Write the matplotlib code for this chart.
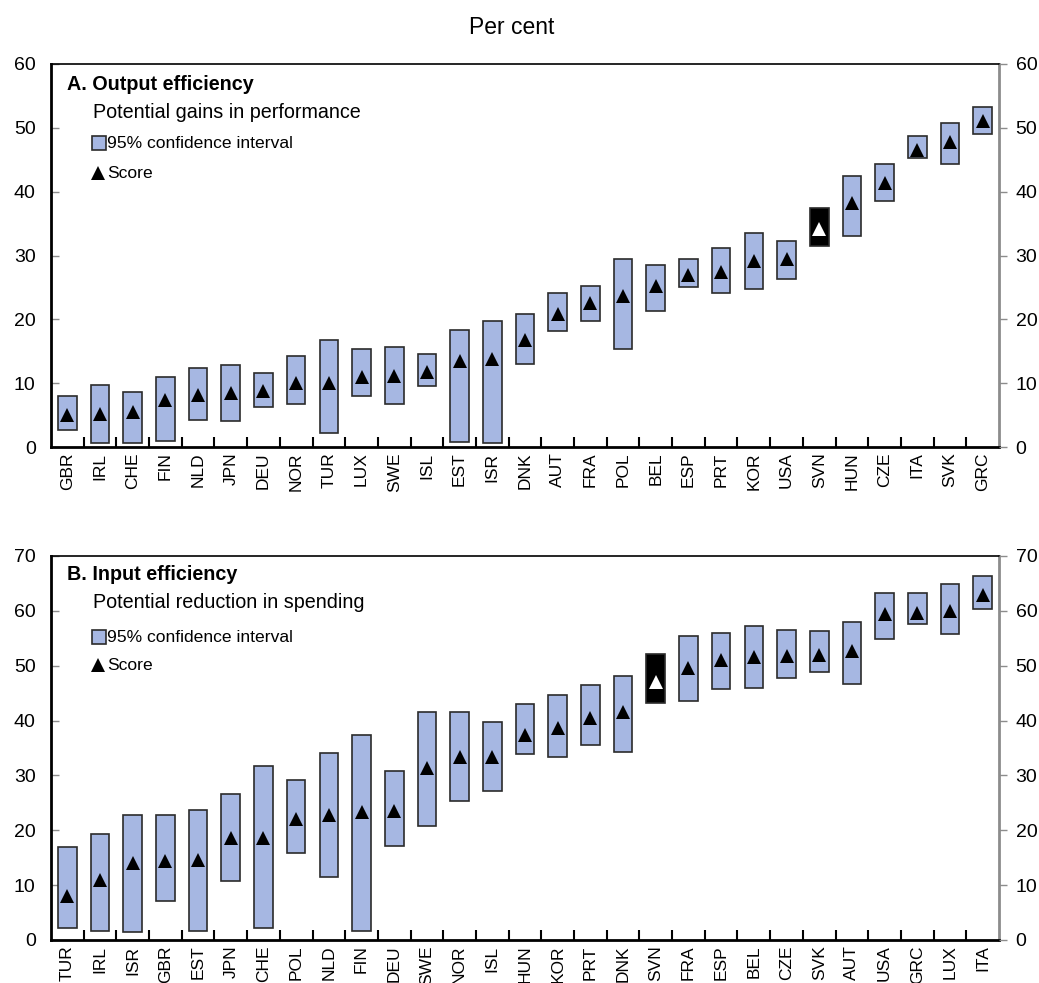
import matplotlib
matplotlib.use("Agg")
import matplotlib.pyplot as plt
import numpy as np

# ---- Panel A: output efficiency ----
cats_a = ["GBR", "IRL", "CHE", "FIN", "NLD", "JPN", "DEU", "NOR", "TUR", "LUX",
          "SWE", "ISL", "EST", "ISR", "DNK", "AUT", "FRA", "POL", "BEL", "ESP",
          "PRT", "KOR", "USA", "SVN", "HUN", "CZE", "ITA", "SVK", "GRC"]
score_a = [5.0, 5.1, 5.5, 7.4, 8.2, 8.4, 8.8, 10.0, 10.1, 11.0,
           11.2, 11.8, 13.4, 13.8, 16.8, 20.9, 22.5, 23.7, 25.2, 27.0,
           27.4, 29.1, 29.4, 34.2, 38.3, 41.4, 46.6, 47.8, 51.1]
low_a = [2.6, 0.7, 0.7, 0.9, 4.2, 4.0, 6.2, 6.7, 2.2, 8.0,
         6.7, 9.6, 0.8, 0.7, 13.0, 18.2, 19.8, 15.3, 21.3, 25.0,
         24.2, 24.7, 26.3, 31.5, 33.0, 38.6, 45.3, 44.4, 49.0]
high_a = [8.0, 9.7, 8.6, 10.9, 12.4, 12.9, 11.6, 14.3, 16.8, 15.4,
          15.7, 14.6, 18.3, 19.8, 20.9, 24.1, 25.2, 29.4, 28.5, 29.5,
          31.2, 33.5, 32.2, 37.5, 42.5, 44.4, 48.7, 50.8, 53.3]

# ---- Panel B: input efficiency ----
cats_b = ["TUR", "IRL", "ISR", "GBR", "EST", "JPN", "CHE", "POL", "NLD", "FIN",
          "DEU", "SWE", "NOR", "ISL", "HUN", "KOR", "PRT", "DNK", "SVN", "FRA",
          "ESP", "BEL", "CZE", "SVK", "AUT", "USA", "GRC", "LUX", "ITA"]
score_b = [8.1, 10.9, 14.1, 14.4, 14.5, 18.6, 18.6, 22.0, 22.8, 23.3,
           23.5, 31.3, 33.3, 33.4, 37.3, 38.7, 40.5, 41.5, 47.1, 49.6,
           51.1, 51.5, 51.8, 51.9, 52.7, 59.4, 59.6, 59.9, 62.8]
low_b = [2.1, 1.6, 1.5, 7.2, 1.7, 10.7, 2.1, 15.8, 11.4, 1.7,
         17.1, 20.8, 25.3, 27.1, 33.9, 33.4, 35.5, 34.2, 43.2, 43.6,
         45.8, 45.9, 47.8, 48.9, 46.6, 54.9, 57.6, 55.7, 60.3]
high_b = [16.9, 19.3, 22.8, 22.8, 23.7, 26.7, 31.8, 29.2, 34.1, 37.3,
          30.8, 41.5, 41.5, 39.8, 43.1, 44.6, 46.4, 48.1, 52.2, 55.5,
          56.0, 57.2, 56.5, 56.4, 57.9, 63.3, 63.3, 64.9, 66.4]

HIGHLIGHT = "SVN"
BAR_FILL = "#a6b7e2"
EDGE = "#2b2b2b"
AXIS_GREY = "#8c8c8c"

plt.rcParams["font.family"] = ["Liberation Sans", "DejaVu Sans"]

W, H = 1039, 983
fig = plt.figure(figsize=(W / 100, H / 100), dpi=100)


def axes_px(left, right, top, bottom):
    return fig.add_axes([left / W, 1 - bottom / H, (right - left) / W, (bottom - top) / H])


def panel(ax, cats, score, low, high, ymax, title, subtitle, text_rows):
    n = len(cats)
    x = np.arange(n)
    fills = ["black" if c == HIGHLIGHT else BAR_FILL for c in cats]
    heights = np.array(high) - np.array(low)
    ax.bar(x, heights, bottom=low, width=0.57, color=fills, edgecolor=EDGE,
           linewidth=1.2, zorder=2)
    for xi, c, s in zip(x, cats, score):
        col = "white" if c == HIGHLIGHT else "black"
        ax.plot(xi, s, marker="^", markersize=10.5, color=col,
                markeredgewidth=0, linestyle="none", zorder=3)

    ax.set_xlim(-0.5, n - 0.5)
    ax.set_ylim(0, ymax)
    ax.set_yticks(np.arange(0, ymax + 1, 10))
    ax.set_xticks(x)
    ax.set_xticklabels(cats, rotation=90, fontsize=12.5)
    ax.tick_params(axis="x", length=0, pad=4)
    ax.set_xticks(np.arange(0.5, n - 0.5, 1), minor=True)
    ax.tick_params(axis="x", which="minor", direction="in", length=7,
                   width=1.5, color="black")
    ax.tick_params(axis="y", direction="in", length=6, width=1,
                   color=AXIS_GREY, labelsize=14, pad=11)

    for side in ("left", "bottom"):
        ax.spines[side].set_linewidth(2)
        ax.spines[side].set_color("black")
    ax.spines["top"].set_linewidth(1.2)
    ax.spines["top"].set_color("black")
    ax.spines["right"].set_color(AXIS_GREY)
    ax.spines["right"].set_linewidth(2)

    ax2 = ax.twinx()
    ax2.set_ylim(0, ymax)
    ax2.set_yticks(np.arange(0, ymax + 1, 10))
    ax2.tick_params(axis="y", direction="out", length=6, width=1,
                    color=AXIS_GREY, labelsize=14, pad=6)
    for s in ax2.spines.values():
        s.set_visible(False)

    # panel heading and legend rows (positions in axes fractions)
    y_title, y_sub, y_ci, y_sc = text_rows
    ax.text(0.017, y_title, title, transform=ax.transAxes, fontsize=14.2,
            fontweight="bold", va="center", ha="left")
    ax.text(0.044, y_sub, subtitle, transform=ax.transAxes, fontsize=14.2,
            va="center", ha="left")
    ax.add_patch(plt.Rectangle((0.043, y_ci - 0.018), 0.0145, 0.036,
                               transform=ax.transAxes, facecolor=BAR_FILL,
                               edgecolor=EDGE, linewidth=1.2, zorder=4))
    ax.text(0.0595, y_ci, "95% confidence interval", transform=ax.transAxes,
            fontsize=12.6, va="center", ha="left")
    ax.plot(0.050, y_sc, transform=ax.transAxes, marker="^", markersize=10,
            color="black", markeredgewidth=0, zorder=4, clip_on=False)
    ax.text(0.0595, y_sc, "Score", transform=ax.transAxes,
            fontsize=12.6, va="center", ha="left")


ax_a = axes_px(51, 999, 64, 447)
ax_b = axes_px(51, 999, 556, 940)

# row positions: pixel rows converted to axes fractions
rows_a = [(447 - y) / (447 - 64) for y in (84, 112, 143, 173)]
rows_b = [(940 - y) / (940 - 556) for y in (575, 603, 637, 665)]

panel(ax_a, cats_a, score_a, low_a, high_a, 60, "A. Output efficiency",
      "Potential gains in performance", rows_a)
panel(ax_b, cats_b, score_b, low_b, high_b, 70, "B. Input efficiency",
      "Potential reduction in spending", rows_b)

fig.text(512 / W, 1 - 28 / H, "Per cent", ha="center", va="center",
         fontsize=16.5)

fig.savefig("out.png", dpi=100)
